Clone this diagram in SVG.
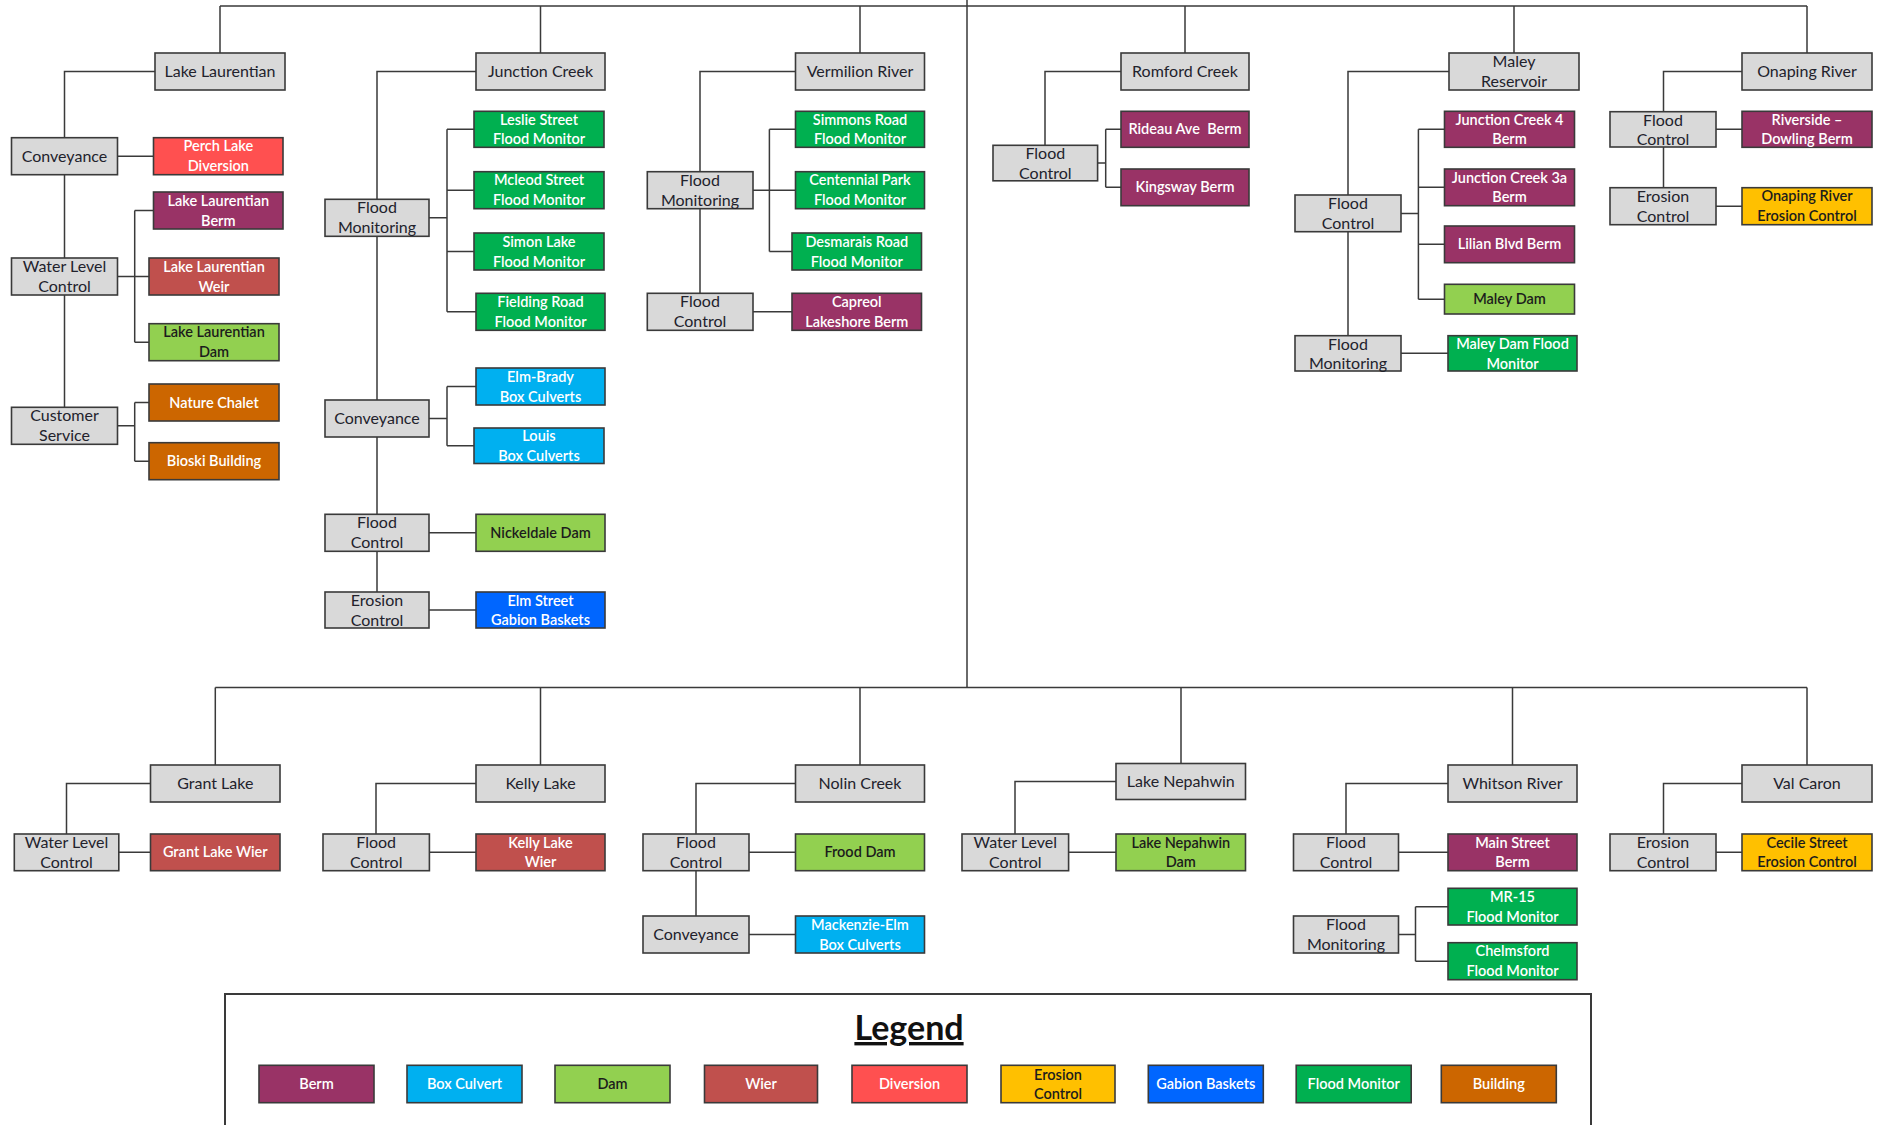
<svg xmlns="http://www.w3.org/2000/svg" width="1879" height="1125" viewBox="0 0 1879 1125">
<style>
.n rect{stroke:#3a3a3a;stroke-width:1.6}
.g rect{fill:#d9d9d9}
text{font-family:Lato,"Liberation Sans",sans-serif;text-anchor:middle}
.g text{font-size:16px;fill:#22222c}
.c text{font-size:14.5px;font-weight:600;fill:#ffffff}
.dk text{fill:#1c1c1c}
.berm rect{fill:#993366}.box rect{fill:#00b0f0}.dam rect{fill:#92d050}.wier rect{fill:#c0504d}
.div rect{fill:#ff5050}.ero rect{fill:#ffc000}.gab rect{fill:#0066ff}.fm rect{fill:#00b050}.bld rect{fill:#cc6600}
#connectors path{fill:none;stroke:#3a3a3a;stroke-width:1.5}
.lt{font-size:34px;font-weight:bold;fill:#111;text-decoration:underline}
</style>
<rect width="1879" height="1125" fill="#ffffff"/>
<g id="connectors">
<path d="M220,6H1807M220,6V53M540.5,6V53M860,6V53M1185,6V53M1514,6V53M1807,6V53M967,0V687.5"/>
<path d="M215.3,687.5H1807M215.3,687.5V765M540.5,687.5V765M860,687.5V765M1181,687.5V763.5M1512.5,687.5V765M1807,687.5V765"/>
<path d="M155,71.5H64.5V407.3M117.5,156.2H153.5M117.5,276.5H134.7M134.7,210.5V342.2M134.7,210.5H153.5M134.7,276.5H149M134.7,342.2H149M117.5,425.8H134.7M134.7,402.5V461.2M134.7,402.5H149M134.7,461.2H149"/>
<path d="M476,71.5H377V592M429,217.8H447M447,129.3V311.8M447,129.3H474M447,190.2H474M447,251.5H474M447,311.8H476M429,418.5H447M447,386.5V445.8M447,386.5H476M447,445.8H474M429,532.8H476M429,610H476"/>
<path d="M795.5,71.5H700V293.3M753,190.2H769.4M769.4,129.3V251.5M769.4,129.3H795.5M769.4,190.2H795.5M769.4,251.5H792M753,311.8H792"/>
<path d="M1121,71.5H1045V145.3M1097.6,163H1105.7M1105.7,129.3V187.3M1105.7,129.3H1121M1105.7,187.3H1121"/>
<path d="M1449,71.5H1348V335.7M1401,213.5H1418.4M1418.4,129.3V299.2M1418.4,129.3H1444.5M1418.4,187.3H1444.5M1418.4,244.3H1444.5M1418.4,299.2H1444.5M1401,353.3H1448"/>
<path d="M1742,71.5H1663.5V187.7M1716,129.3H1742M1716,206.2H1742"/>
<path d="M150.5,783.5H66.5V834M118.8,852.3H150.5"/>
<path d="M476,783.5H376V834M429.4,852.3H476"/>
<path d="M795.5,783.5H696V916M749,852.3H795.5M749,934.5H795.5"/>
<path d="M1116,781.5H1015V834M1068.6,852.3H1116"/>
<path d="M1448,783.5H1346V834M1398.5,852.3H1448M1398.5,934.5H1415.5M1415.5,906.7V961.2M1415.5,906.7H1448M1415.5,961.2H1448"/>
<path d="M1742,783.5H1663.5V834M1716,852.3H1742"/>
</g>

<!-- top level -->
<g id="lake-laurentian" class="n g"><rect x="155" y="53" width="130" height="37"/><text x="220" y="77.3">Lake Laurentian</text></g>
<g id="junction-creek" class="n g"><rect x="476" y="53" width="129" height="37"/><text x="540.5" y="77.3">Junction Creek</text></g>
<g id="vermilion-river" class="n g"><rect x="795.5" y="53" width="129" height="37"/><text x="860" y="77.3">Vermilion River</text></g>
<g id="romford-creek" class="n g"><rect x="1121" y="53" width="128" height="37"/><text x="1185" y="77.3">Romford Creek</text></g>
<g id="maley-reservoir" class="n g"><rect x="1449" y="53" width="130" height="37"/><text x="1514" y="67">Maley</text><text x="1514" y="87">Reservoir</text></g>
<g id="onaping-river" class="n g"><rect x="1742" y="53" width="130" height="37"/><text x="1807" y="77.3">Onaping River</text></g>

<!-- Lake Laurentian subtree -->
<g id="ll-conveyance" class="n g"><rect x="11.5" y="137.7" width="106" height="37"/><text x="64.5" y="162">Conveyance</text></g>
<g id="perch-lake-diversion" class="n c div"><rect x="153.5" y="137.7" width="129.5" height="37"/><text x="218.3" y="151.2">Perch Lake</text><text x="218.3" y="171.2">Diversion</text></g>
<g id="ll-berm" class="n c berm"><rect x="153.5" y="192" width="129.5" height="37"/><text x="218.3" y="205.5">Lake Laurentian</text><text x="218.3" y="225.5">Berm</text></g>
<g id="ll-wlc" class="n g"><rect x="11.5" y="258" width="106" height="37"/><text x="64.5" y="272">Water Level</text><text x="64.5" y="292">Control</text></g>
<g id="ll-weir" class="n c wier"><rect x="149" y="258" width="130" height="37"/><text x="214" y="271.5">Lake Laurentian</text><text x="214" y="291.5">Weir</text></g>
<g id="ll-dam" class="n c dam dk"><rect x="149" y="323.7" width="130" height="37"/><text x="214" y="337.2">Lake Laurentian</text><text x="214" y="357.2">Dam</text></g>
<g id="ll-cs" class="n g"><rect x="11.5" y="407.3" width="106" height="37"/><text x="64.5" y="421.3">Customer</text><text x="64.5" y="441.3">Service</text></g>
<g id="nature-chalet" class="n c bld"><rect x="149" y="384" width="130" height="37"/><text x="214" y="407.5">Nature Chalet</text></g>
<g id="bioski-building" class="n c bld"><rect x="149" y="442.7" width="130" height="37"/><text x="214" y="466.2">Bioski Building</text></g>

<!-- Junction Creek subtree -->
<g id="jc-fm" class="n g"><rect x="325" y="199.3" width="104" height="37"/><text x="377" y="213.3">Flood</text><text x="377" y="233.3">Monitoring</text></g>
<g id="leslie" class="n c fm"><rect x="474" y="111.3" width="130" height="36"/><text x="539" y="124.8">Leslie Street</text><text x="539" y="144.3">Flood Monitor</text></g>
<g id="mcleod" class="n c fm"><rect x="474" y="171.7" width="130" height="37"/><text x="539" y="185.2">Mcleod Street</text><text x="539" y="205.2">Flood Monitor</text></g>
<g id="simon" class="n c fm"><rect x="474" y="233" width="130" height="37"/><text x="539" y="246.5">Simon Lake</text><text x="539" y="266.5">Flood Monitor</text></g>
<g id="fielding" class="n c fm"><rect x="476" y="293.3" width="129" height="37"/><text x="540.5" y="306.8">Fielding Road</text><text x="540.5" y="326.8">Flood Monitor</text></g>
<g id="jc-conveyance" class="n g"><rect x="325" y="400" width="104" height="37"/><text x="377" y="424.3">Conveyance</text></g>
<g id="elm-brady" class="n c box"><rect x="476" y="368" width="129" height="37"/><text x="540.5" y="381.5">Elm-Brady</text><text x="540.5" y="401.5">Box Culverts</text></g>
<g id="louis" class="n c box"><rect x="474" y="428" width="130" height="35.5"/><text x="539" y="441">Louis</text><text x="539" y="460.5">Box Culverts</text></g>
<g id="jc-fc" class="n g"><rect x="325" y="514.3" width="104" height="37"/><text x="377" y="528.3">Flood</text><text x="377" y="548.3">Control</text></g>
<g id="nickeldale" class="n c dam dk"><rect x="476" y="514.3" width="129" height="37"/><text x="540.5" y="537.8">Nickeldale Dam</text></g>
<g id="jc-ec" class="n g"><rect x="325" y="592" width="104" height="36"/><text x="377" y="606">Erosion</text><text x="377" y="626">Control</text></g>
<g id="elm-street" class="n c gab"><rect x="476" y="592" width="129" height="36"/><text x="540.5" y="605.5">Elm Street</text><text x="540.5" y="625">Gabion Baskets</text></g>

<!-- Vermilion River subtree -->
<g id="vr-fm" class="n g"><rect x="647.3" y="171.7" width="105.7" height="37"/><text x="700" y="185.7">Flood</text><text x="700" y="205.7">Monitoring</text></g>
<g id="simmons" class="n c fm"><rect x="795.5" y="111.3" width="129" height="36"/><text x="860" y="124.8">Simmons Road</text><text x="860" y="144.3">Flood Monitor</text></g>
<g id="centennial" class="n c fm"><rect x="795.5" y="171.7" width="129" height="37"/><text x="860" y="185.2">Centennial Park</text><text x="860" y="205.2">Flood Monitor</text></g>
<g id="desmarais" class="n c fm"><rect x="792" y="233" width="129.5" height="37"/><text x="856.8" y="246.5">Desmarais Road</text><text x="856.8" y="266.5">Flood Monitor</text></g>
<g id="vr-fc" class="n g"><rect x="647.3" y="293.3" width="105.7" height="37"/><text x="700" y="307.3">Flood</text><text x="700" y="327.3">Control</text></g>
<g id="capreol" class="n c berm"><rect x="792" y="293.3" width="129.5" height="37"/><text x="856.8" y="306.8">Capreol</text><text x="856.8" y="326.8">Lakeshore Berm</text></g>

<!-- Romford Creek subtree -->
<g id="rc-fc" class="n g"><rect x="993" y="145.3" width="104.6" height="35.5"/><text x="1045.3" y="159">Flood</text><text x="1045.3" y="178.5">Control</text></g>
<g id="rideau" class="n c berm"><rect x="1121" y="111.3" width="128" height="36"/><text x="1185" y="134.3" xml:space="preserve">Rideau Ave  Berm</text></g>
<g id="kingsway" class="n c berm"><rect x="1121" y="169" width="128" height="36.7"/><text x="1185" y="192.3">Kingsway Berm</text></g>

<!-- Maley Reservoir subtree -->
<g id="mr-fc" class="n g"><rect x="1295" y="195" width="106" height="36.7"/><text x="1348" y="209">Flood</text><text x="1348" y="229">Control</text></g>
<g id="jc4" class="n c berm"><rect x="1444.5" y="111.3" width="130" height="36"/><text x="1509.5" y="124.8">Junction Creek 4</text><text x="1509.5" y="144.3">Berm</text></g>
<g id="jc3a" class="n c berm"><rect x="1444.5" y="169" width="130" height="36.7"/><text x="1509.5" y="182.5">Junction Creek 3a</text><text x="1509.5" y="202.3">Berm</text></g>
<g id="lilian" class="n c berm"><rect x="1444.5" y="226" width="130" height="36.7"/><text x="1509.5" y="249.3">Lilian Blvd Berm</text></g>
<g id="maley-dam" class="n c dam dk"><rect x="1444.5" y="284.3" width="130" height="29.7"/><text x="1509.5" y="304.2">Maley Dam</text></g>
<g id="mr-fm" class="n g"><rect x="1295" y="335.7" width="106" height="35.3"/><text x="1348" y="349.5">Flood</text><text x="1348" y="369.3">Monitoring</text></g>
<g id="maley-dam-fm" class="n c fm"><rect x="1448" y="335.7" width="129" height="35.3"/><text x="1512.5" y="349">Maley Dam Flood</text><text x="1512.5" y="368.5">Monitor</text></g>

<!-- Onaping River subtree -->
<g id="or-fc" class="n g"><rect x="1610" y="111.7" width="106" height="35.3"/><text x="1663" y="125.5">Flood</text><text x="1663" y="145.3">Control</text></g>
<g id="riverside" class="n c berm"><rect x="1742" y="111.3" width="130" height="36"/><text x="1807" y="124.8">Riverside –</text><text x="1807" y="144.3">Dowling Berm</text></g>
<g id="or-ec" class="n g"><rect x="1610" y="187.7" width="106" height="37"/><text x="1663" y="201.7">Erosion</text><text x="1663" y="221.7">Control</text></g>
<g id="onaping-ec" class="n c ero dk"><rect x="1742" y="187.7" width="130" height="37"/><text x="1807" y="201.2">Onaping River</text><text x="1807" y="221.2">Erosion Control</text></g>

<!-- bottom level -->
<g id="grant-lake" class="n g"><rect x="150.5" y="765" width="129.5" height="37"/><text x="215.3" y="789.3">Grant Lake</text></g>
<g id="kelly-lake" class="n g"><rect x="476" y="765" width="129" height="37"/><text x="540.5" y="789.3">Kelly Lake</text></g>
<g id="nolin-creek" class="n g"><rect x="795.5" y="765" width="129" height="37"/><text x="860" y="789.3">Nolin Creek</text></g>
<g id="lake-nepahwin" class="n g"><rect x="1116" y="763.5" width="129.5" height="36"/><text x="1180.8" y="787.3">Lake Nepahwin</text></g>
<g id="whitson-river" class="n g"><rect x="1448" y="765" width="129" height="37"/><text x="1512.5" y="789.3">Whitson River</text></g>
<g id="val-caron" class="n g"><rect x="1742" y="765" width="130" height="37"/><text x="1807" y="789.3">Val Caron</text></g>

<g id="gl-wlc" class="n g"><rect x="14.3" y="834" width="104.5" height="36.7"/><text x="66.5" y="848">Water Level</text><text x="66.5" y="868">Control</text></g>
<g id="grant-lake-wier" class="n c wier"><rect x="150.5" y="834" width="129.5" height="36.7"/><text x="215.3" y="857.3">Grant Lake Wier</text></g>
<g id="kl-fc" class="n g"><rect x="323" y="834" width="106.4" height="36.7"/><text x="376.2" y="848">Flood</text><text x="376.2" y="868">Control</text></g>
<g id="kelly-lake-wier" class="n c wier"><rect x="476" y="834" width="129" height="36.7"/><text x="540.5" y="847.5">Kelly Lake</text><text x="540.5" y="867.3">Wier</text></g>
<g id="nc-fc" class="n g"><rect x="643" y="834" width="106" height="36.7"/><text x="696" y="848">Flood</text><text x="696" y="868">Control</text></g>
<g id="frood-dam" class="n c dam dk"><rect x="795.5" y="834" width="129" height="36.7"/><text x="860" y="857.3">Frood Dam</text></g>
<g id="nc-conveyance" class="n g"><rect x="643" y="916" width="106" height="37"/><text x="696" y="940.3">Conveyance</text></g>
<g id="mackenzie-elm" class="n c box"><rect x="795.5" y="916" width="129" height="37"/><text x="860" y="929.5">Mackenzie-Elm</text><text x="860" y="949.5">Box Culverts</text></g>
<g id="ln-wlc" class="n g"><rect x="962" y="834" width="106.6" height="36.7"/><text x="1015.3" y="848">Water Level</text><text x="1015.3" y="868">Control</text></g>
<g id="ln-dam" class="n c dam dk"><rect x="1116" y="834" width="129.5" height="36.7"/><text x="1180.8" y="847.5">Lake Nepahwin</text><text x="1180.8" y="867.3">Dam</text></g>
<g id="wr-fc" class="n g"><rect x="1293.5" y="834" width="105" height="36.7"/><text x="1346" y="848">Flood</text><text x="1346" y="868">Control</text></g>
<g id="main-street-berm" class="n c berm"><rect x="1448" y="834" width="129" height="36.7"/><text x="1512.5" y="847.5">Main Street</text><text x="1512.5" y="867.3">Berm</text></g>
<g id="wr-fm" class="n g"><rect x="1293.5" y="916" width="105" height="37"/><text x="1346" y="930">Flood</text><text x="1346" y="950">Monitoring</text></g>
<g id="mr15" class="n c fm"><rect x="1448" y="888.3" width="129" height="36.7"/><text x="1512.5" y="901.8">MR-15</text><text x="1512.5" y="921.6">Flood Monitor</text></g>
<g id="chelmsford" class="n c fm"><rect x="1448" y="942.7" width="129" height="37"/><text x="1512.5" y="956.2">Chelmsford</text><text x="1512.5" y="976.2">Flood Monitor</text></g>
<g id="vc-ec" class="n g"><rect x="1610" y="834" width="106" height="36.7"/><text x="1663" y="848">Erosion</text><text x="1663" y="868">Control</text></g>
<g id="cecile" class="n c ero dk"><rect x="1742" y="834" width="130" height="36.7"/><text x="1807" y="847.5">Cecile Street</text><text x="1807" y="867.3">Erosion Control</text></g>

<!-- legend -->
<g id="legend">
<path d="M225,1125V994H1591V1125" fill="none" stroke="#3a3a3a" stroke-width="2"/>
<text class="lt" x="909" y="1040">Legend</text>
<g class="n c berm"><rect x="259" y="1065.3" width="115" height="37.4"/><text x="316.5" y="1089">Berm</text></g>
<g class="n c box"><rect x="407" y="1065.3" width="115" height="37.4"/><text x="464.5" y="1089">Box Culvert</text></g>
<g class="n c dam dk"><rect x="555" y="1065.3" width="115" height="37.4"/><text x="612.5" y="1089">Dam</text></g>
<g class="n c wier"><rect x="704.5" y="1065.3" width="113" height="37.4"/><text x="761" y="1089">Wier</text></g>
<g class="n c div"><rect x="852" y="1065.3" width="115" height="37.4"/><text x="909.5" y="1089">Diversion</text></g>
<g class="n c ero dk"><rect x="1001" y="1065.3" width="114" height="37.4"/><text x="1058" y="1080">Erosion</text><text x="1058" y="1099">Control</text></g>
<g class="n c gab"><rect x="1148.3" y="1065.3" width="115" height="37.4"/><text x="1205.8" y="1089">Gabion Baskets</text></g>
<g class="n c fm"><rect x="1296.2" y="1065.3" width="115" height="37.4"/><text x="1353.7" y="1089">Flood Monitor</text></g>
<g class="n c bld"><rect x="1441.3" y="1065.3" width="115" height="37.4"/><text x="1498.8" y="1089">Building</text></g>
</g>
</svg>
